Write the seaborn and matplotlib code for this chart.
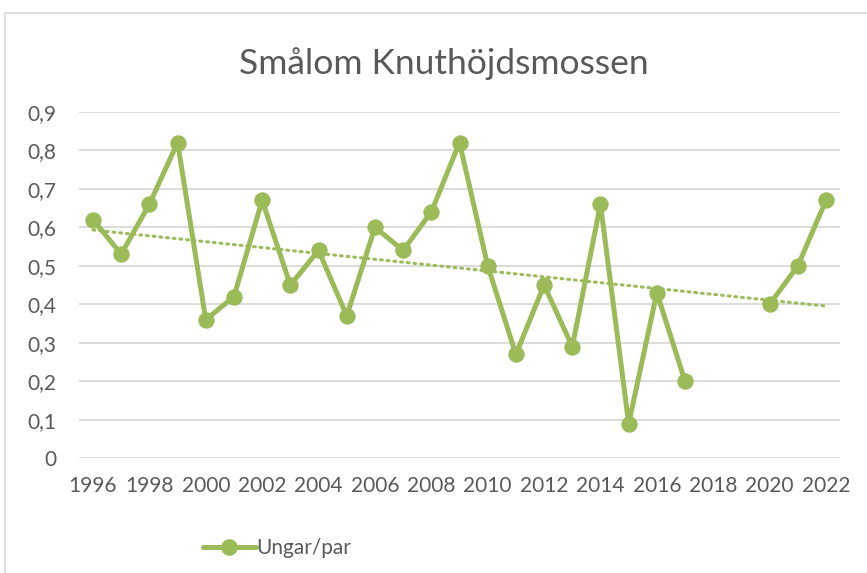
import numpy as np
import pandas as pd
import seaborn as sns
import matplotlib.pyplot as plt
from matplotlib.lines import Line2D
from matplotlib.patches import Rectangle

years = list(range(1996, 2023))
ungar_per_par = [0.62, 0.53, 0.66, 0.82, 0.36, 0.42, 0.67, 0.45, 0.54, 0.37,
                 0.60, 0.54, 0.64, 0.82, 0.50, 0.27, 0.45, 0.29, 0.66, 0.09,
                 0.43, 0.20, np.nan, np.nan, 0.40, 0.50, 0.67]
y_ticks = [0, 0.1, 0.2, 0.3, 0.4, 0.5, 0.6, 0.7, 0.8, 0.9]
x_ticks = list(range(1996, 2023, 2))

green = '#9BBB59'
grey_text = '#595959'
grid_col = '#D9D9D9'

df = pd.DataFrame({'year': years, 'value': ungar_per_par})
# split into segments so the gap 2018-2019 stays open
df['seg'] = df['value'].isna().cumsum()
df_ok = df.dropna()

sns.set_theme(style='white')
plt.rcParams['font.family'] = ['Lato', 'DejaVu Sans']

fig, ax = plt.subplots(figsize=(8.67, 5.73), dpi=100)
fig.subplots_adjust(left=0.091, right=0.969, top=0.805, bottom=0.2)

for y in y_ticks:
    ax.axhline(y, color=grid_col, linewidth=1.3, zorder=0)

# linear trendline (Excel style)
k, m = np.polyfit(df_ok['year'], df_ok['value'], 1)
trend = pd.DataFrame({'year': years, 'value': [k * x + m for x in years]})
sns.lineplot(data=trend, x='year', y='value', ax=ax, color=green,
             linewidth=2.2, linestyle=(0, (0.6, 1.6)), dash_capstyle='round')

sns.lineplot(data=df_ok, x='year', y='value', units='seg', estimator=None,
             ax=ax, color=green, linewidth=3.6, marker='o', markersize=11,
             markeredgecolor=green)

ax.set_xlim(1995.5, 2022.5)
ax.set_ylim(0, 0.9)
ax.set_yticks(y_ticks)
ax.set_yticklabels([('%g' % v).replace('.', ',') for v in y_ticks])
ax.set_xticks(x_ticks)
ax.set_xticklabels([str(x) for x in x_ticks])
ax.tick_params(axis='both', colors=grey_text, labelsize=15, length=0)
ax.tick_params(axis='y', pad=16)
ax.tick_params(axis='x', pad=13)
ax.set_xlabel('')
ax.set_ylabel('')
for s in ax.spines.values():
    s.set_visible(False)

fig.suptitle('Smålom Knuthöjdsmossen', x=0.512, y=0.918, fontsize=25.5,
             color=grey_text)

handle = Line2D([], [], color=green, linewidth=3.6, marker='o',
                markersize=11, markeredgecolor=green)
fig.legend([handle], ['Ungar/par'], loc='center left',
           bbox_to_anchor=(0.213, 0.043), frameon=False, fontsize=15,
           labelcolor=grey_text, handlelength=2.5, handletextpad=0.05)

fig.patches.append(Rectangle((5 / 867, -0.1), 1.1, 1 - 13 / 573 + 0.1,
                             transform=fig.transFigure, fill=False,
                             edgecolor=grid_col, linewidth=1.2))

fig.savefig('out.png', dpi=100)
